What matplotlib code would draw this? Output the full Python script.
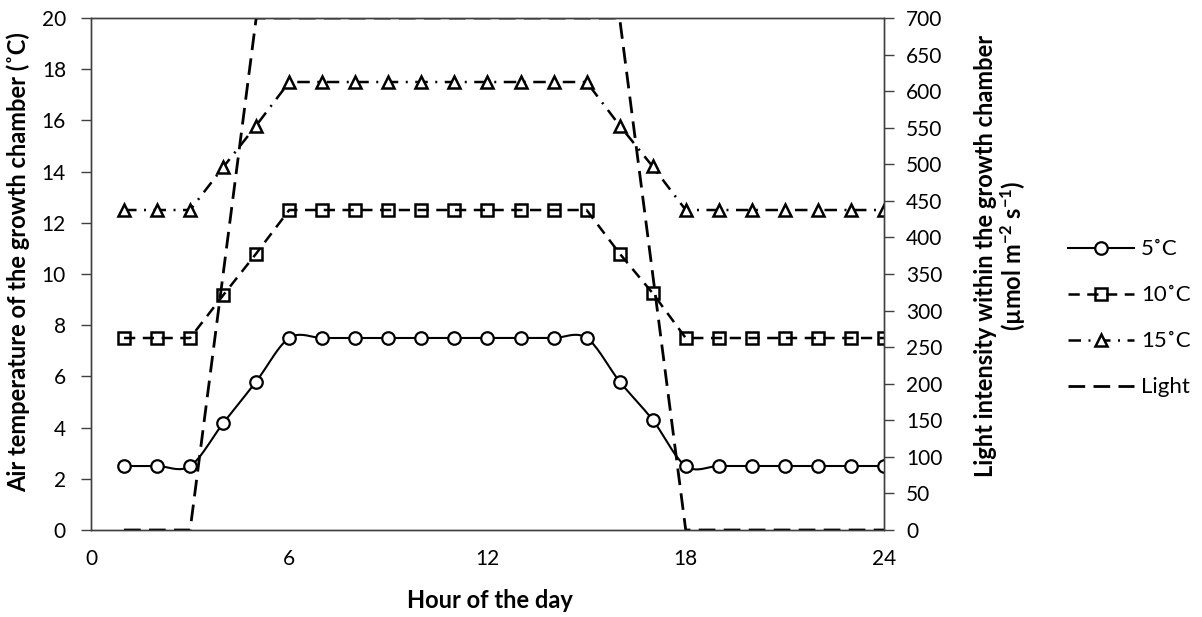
import numpy as np
import matplotlib
matplotlib.use("Agg")
import matplotlib.pyplot as plt
from matplotlib.lines import Line2D

plt.rcParams['font.family'] = ['Lato', 'DejaVu Sans']
plt.rcParams['mathtext.fontset'] = 'custom'
plt.rcParams['mathtext.rm'] = 'Lato:bold'
plt.rcParams['mathtext.it'] = 'Lato:italic'
plt.rcParams['mathtext.bf'] = 'Lato:bold'

hours = list(range(1, 25))
temp_5 = [2.5, 2.5, 2.5, 4.17, 5.8, 7.5, 7.5, 7.5, 7.5, 7.5, 7.5, 7.5, 7.5, 7.5, 7.5,
          5.8, 4.3, 2.5, 2.5, 2.5, 2.5, 2.5, 2.5, 2.5]
temp_10 = [7.5, 7.5, 7.5, 9.17, 10.8, 12.5, 12.5, 12.5, 12.5, 12.5, 12.5, 12.5, 12.5, 12.5, 12.5,
           10.8, 9.25, 7.5, 7.5, 7.5, 7.5, 7.5, 7.5, 7.5]
temp_15 = [12.5, 12.5, 12.5, 14.17, 15.8, 17.5, 17.5, 17.5, 17.5, 17.5, 17.5, 17.5, 17.5, 17.5, 17.5,
           15.8, 14.2, 12.5, 12.5, 12.5, 12.5, 12.5, 12.5, 12.5]
light = [0, 0, 0, 350, 700, 700, 700, 700, 700, 700, 700, 700, 700, 700, 700,
         700, 350, 0, 0, 0, 0, 0, 0, 0]
x_ticks = [0, 6, 12, 18, 24]
left_ticks = list(range(0, 21, 2))
right_ticks = list(range(0, 701, 50))
labels = ['5˚C', '10˚C', '15˚C', 'Light']


def smooth(x, y, n=20):
    # Excel-like smoothed line (Bezier with 1/6 control points)
    x = np.asarray(x, float)
    y = np.asarray(y, float)
    px = np.concatenate([[x[0]], x, [x[-1]]])
    py = np.concatenate([[y[0]], y, [y[-1]]])
    xs, ys = [], []
    t = np.linspace(0, 1, n)
    for i in range(len(x) - 1):
        p0 = np.array([px[i + 1], py[i + 1]])
        p3 = np.array([px[i + 2], py[i + 2]])
        c1 = p0 + (np.array([px[i + 2], py[i + 2]]) - np.array([px[i], py[i]])) / 6
        c2 = p3 - (np.array([px[i + 3], py[i + 3]]) - np.array([px[i + 1], py[i + 1]])) / 6
        b = ((1 - t) ** 3)[:, None] * p0 + (3 * (1 - t) ** 2 * t)[:, None] * c1 + \
            (3 * (1 - t) * t ** 2)[:, None] * c2 + (t ** 3)[:, None] * p3
        xs.extend(b[:, 0])
        ys.extend(b[:, 1])
    return xs, ys


fig = plt.figure(figsize=(12.02, 6.17), dpi=100)
ax = fig.add_axes([0.0757, 0.1410, 0.6597, 0.8298])
ax2 = ax.twinx()

sx, sy = smooth(hours, temp_5)
ax.plot(sx, sy, color='black', lw=1.5, zorder=3)
ax.plot(hours, temp_5, ls='none', marker='o', ms=9, mfc='white', mec='black', mew=1.6, zorder=4)

ax.plot(hours, temp_10, color='black', lw=1.8, ls=(0, (4.5, 3)),
        marker='s', ms=8.5, mfc='none', mec='black', mew=1.8, zorder=3)
ax.plot(hours, temp_15, color='black', lw=1.8, ls=(0, (5, 3, 0.8, 3)),
        marker='^', ms=9, mfc='white', mec='black', mew=1.8, zorder=3)

ax2.plot(hours, light, color='black', lw=2.0, ls=(0, (6, 3)), zorder=2)

ax.set_xlim(0, 24)
ax.set_ylim(0, 20)
ax2.set_ylim(0, 700)
ax.set_xticks(x_ticks)
ax.set_yticks(left_ticks)
ax2.set_yticks(right_ticks)

for a in (ax, ax2):
    for s in a.spines.values():
        s.set_color('#404040')
        s.set_linewidth(1.0)
ax.tick_params(axis='x', length=0, labelsize=15, pad=14)
ax.tick_params(axis='y', length=7, width=1, color='#404040', labelsize=15, direction='out', pad=11)
ax2.tick_params(axis='y', length=7, width=1, color='#404040', labelsize=15, direction='out', pad=9)

ax.set_xlabel('Hour of the day', fontsize=17, fontweight='bold')
ax.xaxis.set_label_coords(0.503, -0.115)
ax.set_ylabel('Air temperature of the growth chamber (˚C)', fontsize=17, fontweight='bold')
ax.yaxis.set_label_coords(-0.077, 0.523)
ax2.set_ylabel('Light intensity within the growth chamber\n(µmol m$^{-2}$ s$^{-1}$)',
               fontsize=17, fontweight='bold', linespacing=1.05)
ax2.yaxis.set_label_coords(1.113, 0.535)

handles = [
    Line2D([], [], color='black', lw=1.5, marker='o', ms=9, mfc='white', mec='black', mew=1.6),
    Line2D([], [], color='black', lw=1.8, ls=(0, (4.5, 3)), marker='s', ms=8.5, mfc='none', mew=1.8),
    Line2D([], [], color='black', lw=1.8, ls=(0, (5, 3, 0.8, 3)), marker='^', ms=9, mfc='white', mew=1.8),
    Line2D([], [], color='black', lw=2.0, ls=(0, (6, 3))),
]
fig.legend(handles, labels, loc='center left', bbox_to_anchor=(0.872, 0.484),
           frameon=False, fontsize=16, handlelength=2.97, labelspacing=1.17, handletextpad=0.32)

fig.savefig('out.png', dpi=100)
